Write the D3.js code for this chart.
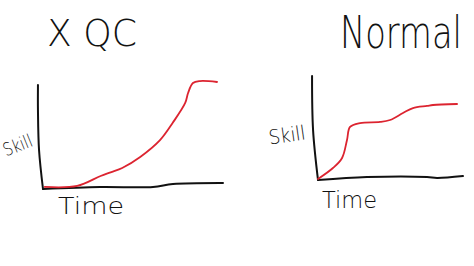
<!DOCTYPE html>
<html>
<head>
<meta charset="utf-8">
<script src="https://cdn.jsdelivr.net/npm/d3@7"></script>
<style>
  html, body { margin: 0; padding: 0; background: #fff; }
  svg text { font-family: "DejaVu Sans", sans-serif; font-weight: 200; fill: #111; }
</style>
</head>
<body>
<div id="container"></div>
<script>
// data, in (time, skill) units, 0..100 on each axis
var titles = ["X QC", "Normal"];
var xLabel = "Time";
var yLabel = "Skill";

// the red skill curves
var qcCurve = [[1,2],[19,3],[32,12.5],[38,16.3],[44,20.2],[54,30.8],[65,47],[72,63.5],[79,82.7],[80.6,92.3],[83.3,101.9],[87.2,103.8],[96.7,102.9]];
var normalCurve = [[0,1],[10.3,11.5],[16.6,21.2],[20,38.5],[22.1,51],[29,54.8],[42.8,55.8],[49.7,57.7],[58.6,64.4],[65.5,69.2],[75.2,71.2],[79.3,72.1],[95.9,73.1]];

// hand drawn axis strokes (they wobble a bit)
var qcXAxis = [[0,0],[31.7,1.9],[61.1,1.9],[72.2,4.8],[100,5.8]];
var qcYAxis = [[-2.8,100],[-2.8,76],[-2.2,37.5],[0,0]];
var normalXAxis = [[0,0],[33.8,2.9],[75.2,2.9],[82.1,1.9],[100,3.8]];
var normalYAxis = [[-4.1,100],[-3.4,48],[0,0]];

var svg = d3.select("div#container").append("svg").attr("width",474).attr("height",266);

var panels = [
  {title: titles[0], curve: qcCurve, xAxis: qcXAxis, yAxis: qcYAxis,
   x0: 43, x1: 223, y0: 189, y1: 85,
   titlePos: [47,46], titleSize: 38, titleLen: 90, titleStretch: 1,
   skillPos: [20,151], skillSize: 18, skillLen: 30, skillRot: -22,
   timePos: [58,214], timeSize: 23, timeLen: 66},
  {title: titles[1], curve: normalCurve, xAxis: normalXAxis, yAxis: normalYAxis,
   x0: 318, x1: 463, y0: 180, y1: 76,
   titlePos: [340,48], titleSize: 32, titleLen: 122, titleStretch: 1.4,
   skillPos: [288,142], skillSize: 20, skillLen: 37, skillRot: -8,
   timePos: [322,208], timeSize: 23, timeLen: 55}
];

panels.forEach(function(p) {
  var xScale = d3.scaleLinear().domain([0,100]).range([p.x0,p.x1]);
  var yScale = d3.scaleLinear().domain([0,100]).range([p.y0,p.y1]);

  var line = d3.line()
               .x(function(d) { return xScale(d[0]); })
               .y(function(d) { return yScale(d[1]); })
               .curve(d3.curveCatmullRom);

  // axes
  [p.xAxis, p.yAxis].forEach(function(a) {
    svg.append("path")
       .datum(a)
       .attr("d", line)
       .attr("fill","none")
       .attr("stroke","#111")
       .attr("stroke-width",2)
       .attr("stroke-linecap","round");
  });

  // skill curve
  svg.append("path")
     .datum(p.curve)
     .attr("d", line)
     .attr("fill","none")
     .attr("stroke","#dc2430")
     .attr("stroke-width",1.8)
     .attr("stroke-linecap","round");

  svg.append("text")
     .attr("transform","translate("+p.titlePos[0]+","+p.titlePos[1]+") scale(1,"+p.titleStretch+")")
     .attr("textLength",p.titleLen).attr("lengthAdjust","spacingAndGlyphs")
     .style("font-size",p.titleSize+"px")
     .text(p.title);

  svg.append("text")
     .attr("text-anchor","middle")
     .attr("transform","translate("+p.skillPos[0]+","+p.skillPos[1]+") rotate("+p.skillRot+")")
     .attr("textLength",p.skillLen).attr("lengthAdjust","spacingAndGlyphs")
     .style("font-size",p.skillSize+"px")
     .text(yLabel);

  svg.append("text")
     .attr("x",p.timePos[0]).attr("y",p.timePos[1])
     .attr("textLength",p.timeLen).attr("lengthAdjust","spacingAndGlyphs")
     .style("font-size",p.timeSize+"px")
     .text(xLabel);
});
</script>
</body>
</html>
